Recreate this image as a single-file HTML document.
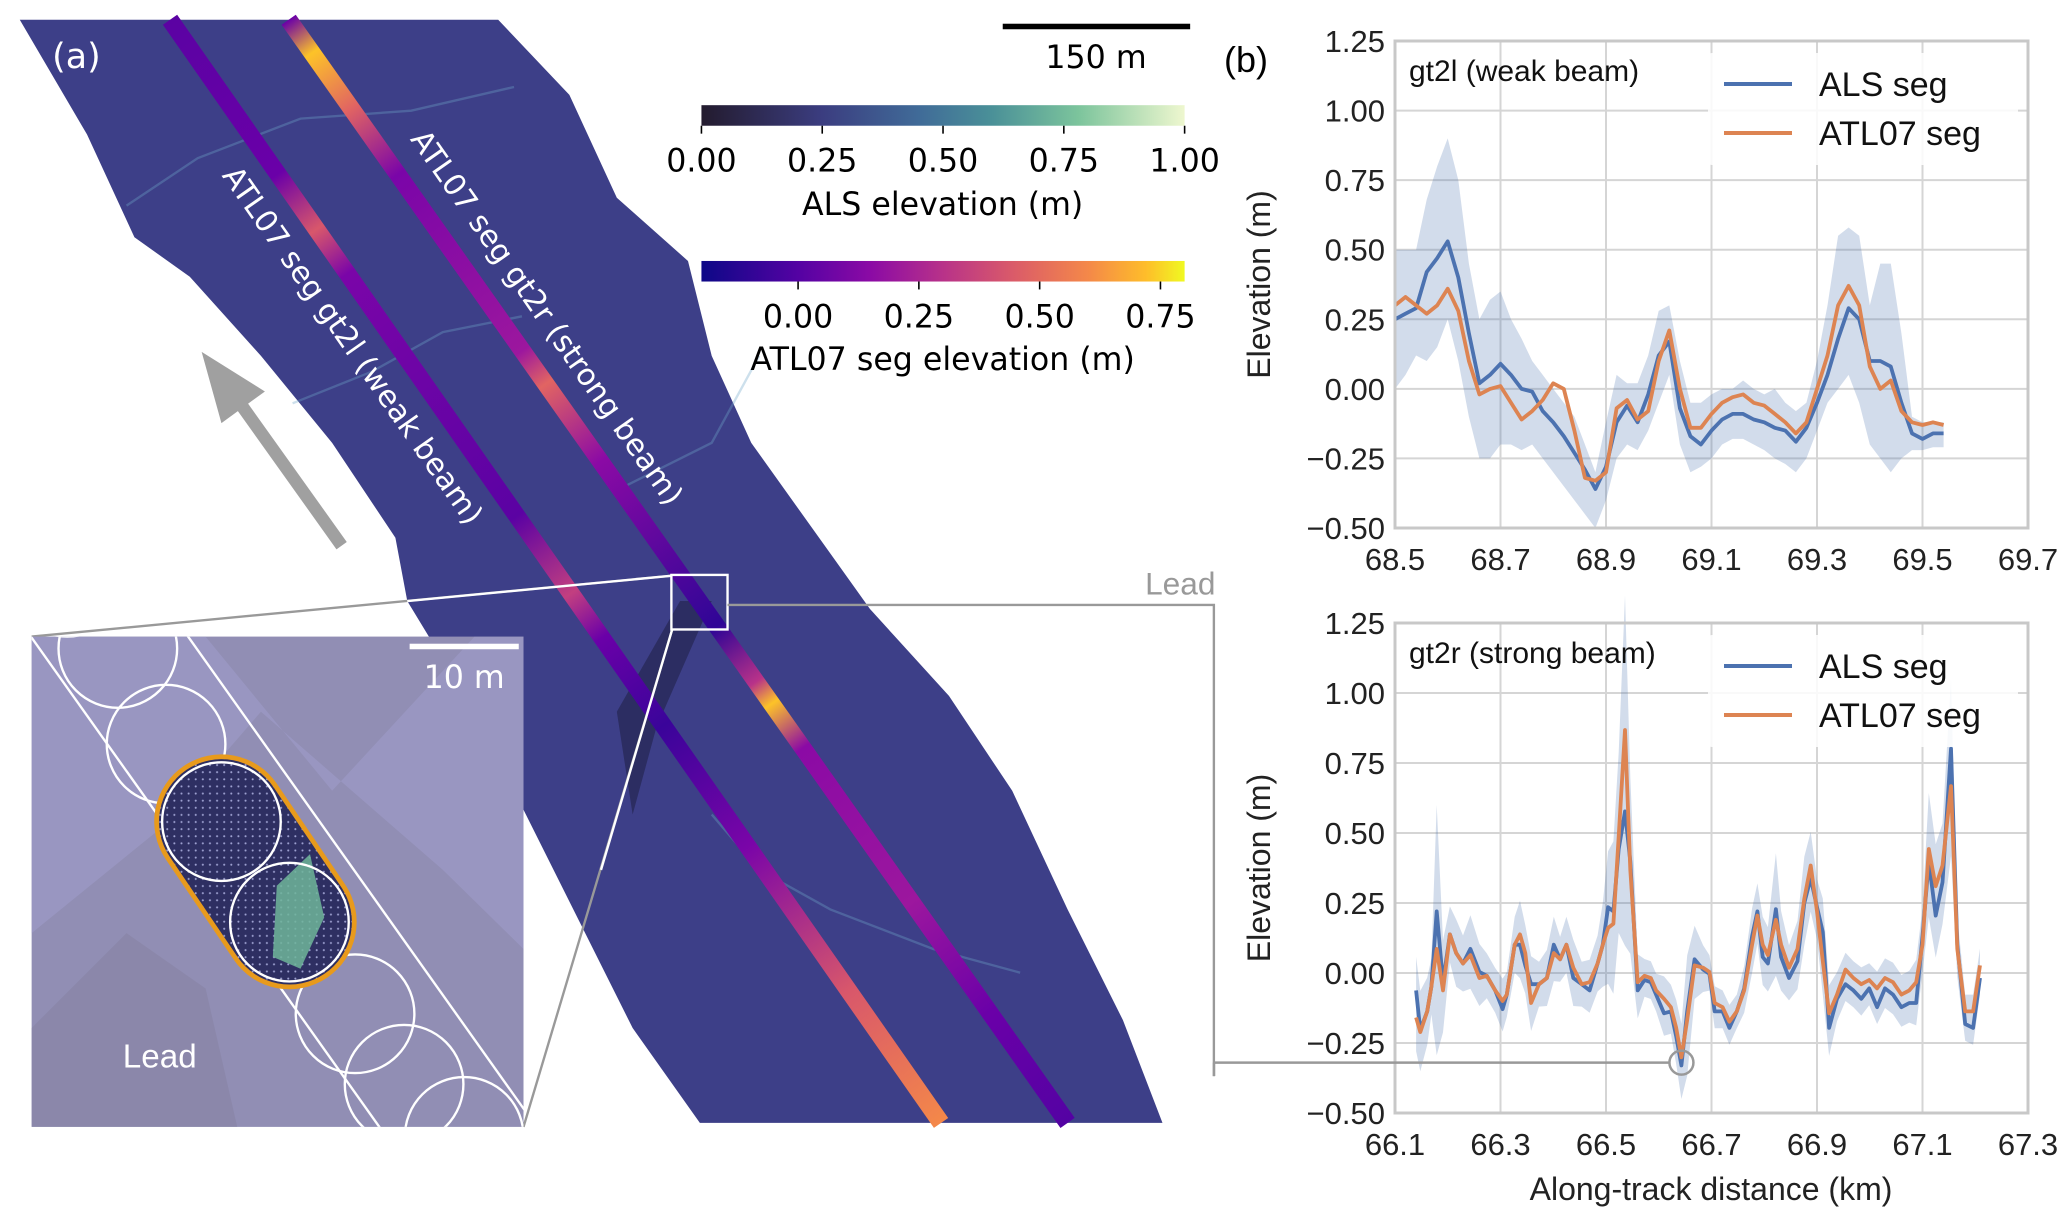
<!DOCTYPE html>
<html><head><meta charset="utf-8"><style>
html,body{margin:0;padding:0;background:#fff;overflow:hidden;width:2067px;height:1226px;}
svg{display:block;}
</style></head><body>
<svg id="fig" xmlns="http://www.w3.org/2000/svg" width="2067" height="1226" viewBox="0 0 2067 1226">
<defs>
<linearGradient id="alsGrad" x1="0" x2="1" y1="0" y2="0">
<stop offset="0" stop-color="#231b2e"/><stop offset="0.25" stop-color="#3b3d80"/><stop offset="0.45" stop-color="#406b98"/><stop offset="0.6" stop-color="#4a9098"/><stop offset="0.78" stop-color="#7cc49c"/><stop offset="1" stop-color="#eef7cf"/>
</linearGradient>
<linearGradient id="plasmaGrad" x1="0" x2="1" y1="0" y2="0">
<stop offset="0" stop-color="#0d0887"/><stop offset="0.2" stop-color="#5402a3"/><stop offset="0.35" stop-color="#8b0aa5"/><stop offset="0.5" stop-color="#b83289"/><stop offset="0.65" stop-color="#db5c68"/><stop offset="0.8" stop-color="#f48849"/><stop offset="0.92" stop-color="#febd2a"/><stop offset="1" stop-color="#f0f921"/>
</linearGradient>
<linearGradient id="beamL" gradientUnits="userSpaceOnUse" x1="215" y1="25" x2="1190" y2="1420">
<stop offset="0" stop-color="#5b02a3"/><stop offset="0.14" stop-color="#6a00a8"/><stop offset="0.19" stop-color="#d8576b"/><stop offset="0.23" stop-color="#7a05a8"/><stop offset="0.45" stop-color="#5b02a3"/><stop offset="0.52" stop-color="#c23f80"/><stop offset="0.56" stop-color="#6a00a8"/><stop offset="0.64" stop-color="#3a049a"/><stop offset="0.75" stop-color="#7a05a8"/><stop offset="0.88" stop-color="#d8576b"/><stop offset="1" stop-color="#f48849"/>
</linearGradient>
<linearGradient id="beamR" gradientUnits="userSpaceOnUse" x1="365" y1="25" x2="1350" y2="1420">
<stop offset="0" stop-color="#6a00a8"/><stop offset="0.03" stop-color="#fdc328"/><stop offset="0.08" stop-color="#e16462"/><stop offset="0.14" stop-color="#7a05a8"/><stop offset="0.3" stop-color="#9c179e"/><stop offset="0.33" stop-color="#e16462"/><stop offset="0.4" stop-color="#8b0aa5"/><stop offset="0.55" stop-color="#2f0596"/><stop offset="0.6" stop-color="#b83289"/><stop offset="0.62" stop-color="#fdc328"/><stop offset="0.66" stop-color="#8b0aa5"/><stop offset="0.8" stop-color="#9c179e"/><stop offset="0.9" stop-color="#6a00a8"/><stop offset="1" stop-color="#5402a3"/>
</linearGradient>
<clipPath id="insetClip"><rect x="40" y="805" width="622" height="620"/></clipPath>
<pattern id="dots" width="9" height="9" patternUnits="userSpaceOnUse"><rect width="9" height="9" fill="#2e2f62"/><circle cx="4.5" cy="4.5" r="1.3" fill="#9da0d0"/></pattern>
</defs>

<g transform="scale(0.7908)" font-family="'DejaVu Sans', sans-serif">
  <polygon fill="#3d3f88" points="25,25 630,25 720,120 780,250 870,330 900,450 950,560 1050,700 1100,770 1200,880 1280,1000 1350,1150 1420,1290 1470,1420 885,1420 800,1300 700,1100 600,900 515,760 500,680 420,560 330,450 240,350 170,300 110,170"/>
  <g stroke="#6fa6c8" stroke-width="3" fill="none" opacity="0.35">
    <path d="M160,260 L250,200 L380,150 L520,140 L650,110"/>
    <path d="M370,510 L470,470 L560,420 L660,400"/>
    <path d="M780,620 L900,560 L960,450"/>
    <path d="M900,1030 L960,1100 L1050,1150 L1180,1200 L1290,1230"/>
  </g>
  <polygon points="780,900 860,760 900,760 830,920 800,1030" fill="#2c2d62"/>
  <line x1="215" y1="25" x2="1190" y2="1420" stroke="url(#beamL)" stroke-width="22"/>
  <line x1="365" y1="25" x2="1350" y2="1420" stroke="url(#beamR)" stroke-width="22"/>
  <text x="66" y="86" font-size="44" fill="#fff">(a)</text>
  <text transform="translate(280,222) rotate(55)" font-size="38" fill="#fff">ATL07 seg gt2l (weak beam)</text>
  <text transform="translate(518,176) rotate(55)" font-size="38" fill="#fff">ATL07 seg gt2r (strong beam)</text>
  <g>
    <line x1="432" y1="690" x2="300" y2="505" stroke="#a0a0a0" stroke-width="16"/>
    <polygon points="255,445 335,495 280,535" fill="#a0a0a0"/>
  </g>
  <rect x="1268" y="30" width="237" height="7" fill="#000"/>
  <text x="1386" y="86" font-size="40" text-anchor="middle">150 m</text>
  <rect x="887" y="133" width="611" height="26" fill="url(#alsGrad)"/>
  <g id="alsTicks" font-size="40" text-anchor="middle"></g>
  <text x="1192" y="272" font-size="40" text-anchor="middle">ALS elevation (m)</text>
  <rect x="887" y="330" width="611" height="26" fill="url(#plasmaGrad)"/>
  <g id="atlTicks" font-size="40" text-anchor="middle"></g>
  <text x="1192" y="468" font-size="40" text-anchor="middle">ATL07 seg elevation (m)</text>
  <line x1="850" y1="728" x2="40" y2="805" stroke="#999" stroke-width="3"/>
  <line x1="850" y1="796" x2="662" y2="1425" stroke="#999" stroke-width="3"/>
  <line x1="850" y1="728" x2="515" y2="760" stroke="#fff" stroke-width="3"/>
  <line x1="850" y1="796" x2="760" y2="1100" stroke="#fff" stroke-width="3"/>
  <rect x="849" y="727" width="71" height="69" fill="none" stroke="#fff" stroke-width="3"/>
  <polyline points="920,765 1535,765 1535,1361" fill="none" stroke="#999" stroke-width="3"/>
  <text x="1537" y="752" font-size="40" fill="#999" text-anchor="end" font-family="'Liberation Sans', sans-serif">Lead</text>
  <g>
    <rect x="40" y="805" width="622" height="620" fill="#918eb4"/>
    <g clip-path="url(#insetClip)">
      <polygon points="40,805 260,805 420,1000 600,805 662,805 662,1200 560,1100 330,900 200,1050 40,1180" fill="#9c9ac6" opacity="0.7"/>
      <polygon points="40,1300 160,1180 260,1250 300,1425 40,1425" fill="#8a86a8" opacity="0.8"/>
      <path d="M-25,575 L761,1681" stroke="#fff" stroke-width="3" transform="translate(-66,47)"/>
      <path d="M-25,575 L761,1681" stroke="#fff" stroke-width="3" transform="translate(66,-47)"/>
      <g fill="none" stroke="#fff" stroke-width="3">
        <circle cx="85" cy="730" r="75"/><circle cx="149" cy="820" r="75"/><circle cx="210" cy="941" r="75"/>
        <circle cx="449" cy="1282" r="75"/><circle cx="511" cy="1371" r="75"/><circle cx="587" cy="1437" r="75"/>
      </g>
      <g>
        <path d="M280,1039 L366,1166" stroke="#e89a1c" stroke-width="170" stroke-linecap="round"/>
        <path d="M280,1039 L366,1166" stroke="url(#dots)" stroke-width="158" stroke-linecap="round"/>
        <path d="M350,1120 L392,1080 L410,1160 L380,1225 L345,1210 Z" fill="#6fb59a" opacity="0.85"/>
        <circle cx="280" cy="1039" r="75" fill="none" stroke="#fff" stroke-width="3"/>
        <circle cx="366" cy="1166" r="75" fill="none" stroke="#fff" stroke-width="3"/>
      </g>
    </g>
    <rect x="518" y="814" width="138" height="7" fill="#fff"/>
    <text x="587" y="870" font-size="40" fill="#fff" text-anchor="middle">10 m</text>
    <text x="202" y="1350" font-size="42" fill="#fff" text-anchor="middle" font-family="'Liberation Sans', sans-serif">Lead</text>
  </g>
</g>

<text x="1224" y="72" font-size="36" font-family="'Liberation Sans', sans-serif">(b)</text>
<g id="chartTop" font-family="'Liberation Sans', sans-serif"></g>
<g id="chartBot" font-family="'Liberation Sans', sans-serif"></g>
</svg>
<script>
const alsTickVals = [0, 0.25, 0.5, 0.75, 1.0];
const atlTickVals = [0, 0.25, 0.5, 0.75];
const topX = [68.50,68.52,68.54,68.56,68.58,68.60,68.62,68.64,68.66,68.68,68.70,68.72,68.74,68.76,68.78,68.80,68.82,68.84,68.86,68.88,68.90,68.92,68.94,68.96,68.98,69.00,69.02,69.04,69.06,69.08,69.10,69.12,69.14,69.16,69.18,69.20,69.22,69.24,69.26,69.28,69.30,69.32,69.34,69.36,69.38,69.40,69.42,69.44,69.46,69.48,69.50,69.52,69.54];
const topALS = [0.25,0.27,0.29,0.42,0.47,0.53,0.40,0.20,0.02,0.05,0.09,0.05,0.00,-0.01,-0.08,-0.12,-0.17,-0.23,-0.29,-0.36,-0.28,-0.12,-0.06,-0.12,-0.02,0.12,0.17,-0.07,-0.17,-0.20,-0.15,-0.11,-0.09,-0.09,-0.11,-0.12,-0.14,-0.15,-0.19,-0.14,-0.05,0.05,0.18,0.29,0.25,0.10,0.10,0.08,-0.05,-0.16,-0.18,-0.16,-0.16];
const topATL = [0.30,0.33,0.30,0.27,0.30,0.36,0.28,0.10,-0.02,0.00,0.01,-0.05,-0.11,-0.08,-0.04,0.02,0.00,-0.15,-0.32,-0.33,-0.30,-0.07,-0.04,-0.11,-0.08,0.10,0.21,0.00,-0.14,-0.14,-0.09,-0.05,-0.03,-0.02,-0.05,-0.06,-0.09,-0.12,-0.16,-0.12,0.00,0.12,0.30,0.37,0.30,0.08,0.00,0.03,-0.08,-0.12,-0.13,-0.12,-0.13];
const topUpper = [0.50,0.50,0.50,0.68,0.80,0.90,0.75,0.45,0.25,0.32,0.35,0.25,0.18,0.10,0.05,0.00,-0.05,-0.10,-0.20,-0.30,-0.12,0.05,0.02,0.02,0.12,0.28,0.30,0.10,-0.05,-0.05,-0.02,0.00,0.00,0.03,0.00,-0.02,0.00,-0.05,-0.08,-0.05,0.10,0.30,0.55,0.58,0.55,0.30,0.45,0.45,0.20,-0.10,-0.12,-0.12,-0.12];
const topLower = [0.00,0.05,0.12,0.10,0.15,0.25,0.10,-0.10,-0.25,-0.25,-0.20,-0.20,-0.22,-0.20,-0.25,-0.30,-0.35,-0.40,-0.45,-0.50,-0.40,-0.25,-0.20,-0.22,-0.15,-0.05,0.05,-0.20,-0.30,-0.28,-0.25,-0.20,-0.18,-0.18,-0.20,-0.22,-0.25,-0.27,-0.30,-0.25,-0.15,-0.05,0.00,0.05,-0.05,-0.20,-0.25,-0.30,-0.25,-0.22,-0.22,-0.21,-0.21];
const topXTicks = [68.5,68.7,68.9,69.1,69.3,69.5,69.7];
const botX = [66.140,66.148,66.161,66.169,66.179,66.191,66.204,66.216,66.229,66.243,66.260,66.274,66.290,66.304,66.312,66.327,66.337,66.347,66.358,66.373,66.388,66.401,66.413,66.425,66.438,66.454,66.469,66.484,66.494,66.504,66.514,66.524,66.536,66.546,66.560,66.573,66.585,66.595,66.610,66.623,66.633,66.643,66.654,66.668,66.684,66.696,66.706,66.721,66.734,66.748,66.762,66.777,66.787,66.797,66.807,66.822,66.832,66.847,66.863,66.876,66.888,66.900,66.911,66.923,66.938,66.954,66.969,66.984,66.999,67.014,67.029,67.044,67.060,67.075,67.088,67.100,67.112,67.125,67.138,67.154,67.166,67.181,67.196,67.209];
const botALS = [-0.062,-0.204,-0.137,-0.048,0.220,-0.033,0.138,0.071,0.034,0.086,0.004,-0.010,-0.062,-0.129,-0.077,0.101,0.101,0.027,-0.040,-0.040,-0.018,0.101,0.049,0.101,-0.018,-0.040,-0.062,0.034,0.101,0.235,0.220,0.443,0.577,0.399,-0.062,-0.025,-0.033,-0.077,-0.144,-0.137,-0.226,-0.330,-0.137,0.049,0.012,-0.003,-0.137,-0.137,-0.196,-0.137,-0.055,0.131,0.220,0.057,0.034,0.228,0.057,-0.018,0.042,0.250,0.339,0.235,0.146,-0.196,-0.092,-0.040,-0.062,-0.092,-0.055,-0.122,-0.055,-0.077,-0.122,-0.107,-0.107,0.131,0.399,0.205,0.324,0.801,0.101,-0.182,-0.196,-0.018];
const botATL = [-0.159,-0.211,-0.137,-0.048,0.086,-0.062,0.138,0.071,0.034,0.064,-0.018,-0.010,-0.062,-0.100,-0.077,0.101,0.138,0.071,-0.107,-0.040,-0.018,0.071,0.049,0.101,0.019,-0.040,-0.033,0.034,0.101,0.161,0.176,0.488,0.868,0.369,-0.033,-0.010,-0.018,-0.062,-0.092,-0.122,-0.196,-0.301,-0.167,0.027,0.019,0.004,-0.107,-0.122,-0.174,-0.137,-0.062,0.101,0.205,0.101,0.064,0.190,0.101,0.019,0.086,0.265,0.384,0.220,0.042,-0.144,-0.077,0.012,-0.018,-0.040,-0.025,-0.055,-0.018,-0.033,-0.077,-0.062,-0.033,0.101,0.443,0.310,0.384,0.667,0.086,-0.137,-0.137,0.027];
const botSpread = [0.12,0.14,0.12,0.10,0.38,0.15,0.10,0.12,0.10,0.12,0.10,0.08,0.08,0.08,0.08,0.10,0.12,0.10,0.10,0.08,0.10,0.10,0.08,0.10,0.10,0.08,0.08,0.10,0.15,0.20,0.25,0.30,0.48,0.30,0.10,0.06,0.06,0.06,0.08,0.08,0.10,0.12,0.20,0.12,0.08,0.06,0.06,0.06,0.06,0.06,0.08,0.10,0.10,0.10,0.10,0.20,0.12,0.08,0.10,0.15,0.12,0.10,0.12,0.10,0.08,0.06,0.06,0.06,0.06,0.06,0.07,0.07,0.07,0.07,0.08,0.10,0.20,0.15,0.15,0.25,0.10,0.06,0.06,0.06];
const botXTicks = [66.1,66.3,66.5,66.7,66.9,67.1,67.3];
const yTicks = [-0.5,-0.25,0,0.25,0.5,0.75,1.0,1.25];
const leadPoint = [66.643, -0.32];

const NS = 'http://www.w3.org/2000/svg';
function mk(tag, attrs, parent) {
  const e = document.createElementNS(NS, tag);
  for (const k in attrs) e.setAttribute(k, attrs[k]);
  parent.appendChild(e);
  return e;
}

const alsG = document.getElementById('alsTicks');
alsTickVals.forEach(v => {
  const x = 887 + v * 611;
  const t = mk('line', {x1: x, x2: x, y1: 159, y2: 169, stroke: '#000', 'stroke-width': 2}, alsG);
  
  
  const l = mk('text', {x: x, y: 217}, alsG);
  
  
  l.textContent = v.toFixed(2);
});
const atlG = document.getElementById('atlTicks');
atlTickVals.forEach(v => {
  const x = 887 + (v + 0.2) / 1.0 * 611;
  const t = mk('line', {x1: x, x2: x, y1: 356, y2: 366, stroke: '#000', 'stroke-width': 2}, atlG);
  
  
  const l = mk('text', {x: x, y: 414}, atlG);
  
  
  l.textContent = v.toFixed(2);
});

function drawChart(g, cfg) {
  const X0 = 1395, X1 = 2028, Y0 = cfg.top, Y1 = cfg.bottom;
  const xmin = cfg.xTicks[0], xmax = cfg.xTicks[cfg.xTicks.length - 1];
  const sx = v => X0 + (v - xmin) / (xmax - xmin) * (X1 - X0);
  const sy = v => Y1 - (v + 0.5) / 1.75 * (Y1 - Y0);
  const bg = mk('rect', {x: X0, y: Y0, width: X1 - X0, height: Y1 - Y0, fill: '#fff'}, g);
  
  
  cfg.xTicks.forEach(v => {
    const gl = mk('line', {x1: sx(v), x2: sx(v), y1: Y0, y2: Y1, stroke: '#d5d5d5', 'stroke-width': 2}, g);
    
    
    const tl = mk('text', {x: sx(v), y: Y1 + 42, 'font-size': 31, 'text-anchor': 'middle', fill: '#222'}, g);
    
    
    tl.textContent = v.toFixed(1);
  });
  yTicks.forEach(v => {
    const gl = mk('line', {x1: X0, x2: X1, y1: sy(v), y2: sy(v), stroke: '#d5d5d5', 'stroke-width': 2}, g);
    
    
    const tl = mk('text', {x: X0 - 10, y: sy(v) + 11, 'font-size': 31, 'text-anchor': 'end', fill: '#222'}, g);
    
    
    tl.textContent = (v < 0 ? '\u2212' : '') + Math.abs(v).toFixed(2);
  });
  let d = '';
  cfg.x.forEach((v, i) => { d += (i ? 'L' : 'M') + sx(v).toFixed(1) + ',' + sy(cfg.upper[i]).toFixed(1); });
  for (let i = cfg.x.length - 1; i >= 0; i--) d += 'L' + sx(cfg.x[i]).toFixed(1) + ',' + sy(cfg.lower[i]).toFixed(1);
  const band = mk('path', {d: d + 'Z', fill: '#4c72b0', 'fill-opacity': 0.25}, g);
  
  
  const line = (arr, col, nm) => {
    const p = mk('path', {d: cfg.x.map((v, i) => (i ? 'L' : 'M') + sx(v).toFixed(1) + ',' + sy(arr[i]).toFixed(1)).join(''), fill: 'none', stroke: col, 'stroke-width': 3.8, 'stroke-linejoin': 'round'}, g);
    
    
  };
  line(cfg.als, '#4c72b0', cfg.name + '-als-line');
  line(cfg.atl, '#dd8452', cfg.name + '-atl07-line');
  const fr = mk('rect', {x: X0, y: Y0, width: X1 - X0, height: Y1 - Y0, fill: 'none', stroke: '#c8c8c8', 'stroke-width': 3}, g);
  
  
  const tt = mk('text', {x: X0 + 14, y: Y0 + 40, 'font-size': 30, fill: '#111'}, g);
  
  
  tt.textContent = cfg.title;
  const lg = mk('g', {}, g);
  
  
  mk('rect', {x: 1708, y: Y0 + 12, width: 310, height: 112, fill: '#fff', 'fill-opacity': 0.85, rx: 4}, lg);
  [['ALS seg', '#4c72b0', 0], ['ATL07 seg', '#dd8452', 1]].forEach(([lab, col, k]) => {
    const yy = Y0 + 43 + k * 49;
    const ent = mk('g', {}, lg);
    
    
    mk('line', {x1: 1724, x2: 1792, y1: yy, y2: yy, stroke: col, 'stroke-width': 4}, ent);
    const t = mk('text', {x: 1819, y: yy + 12, 'font-size': 34, fill: '#111'}, ent);
    t.textContent = lab;
  });
  const yt = mk('text', {x: 0, y: 0, 'font-size': 32, 'text-anchor': 'middle', fill: '#222', transform: 'translate(1270,' + ((Y0 + Y1) / 2) + ') rotate(-90)'}, g);
  
  
  yt.textContent = 'Elevation (m)';
  return {sx, sy};
}

drawChart(document.getElementById('chartTop'), {name: 'gt2l', top: 41, bottom: 528, x: topX, als: topALS, atl: topATL, upper: topUpper, lower: topLower, xTicks: topXTicks, title: 'gt2l (weak beam)'});
const botUpper = botALS.map((v, i) => Math.max(v, botATL[i]) + botSpread[i]);
const botLower = botALS.map((v, i) => Math.min(v, botATL[i]) - botSpread[i]);
const gb = document.getElementById('chartBot');
const s = drawChart(gb, {name: 'gt2r', top: 623, bottom: 1113, x: botX, als: botALS, atl: botATL, upper: botUpper, lower: botLower, xTicks: botXTicks, title: 'gt2r (strong beam)'});
const cx = s.sx(leadPoint[0]), cy = s.sy(leadPoint[1]);
const conn = mk('line', {x1: 1214, x2: cx - 12, y1: cy, y2: cy, stroke: '#999', 'stroke-width': 2.5}, gb);


const cv = mk('line', {x1: 1214, x2: 1214, y1: 1076, y2: cy, stroke: '#999', 'stroke-width': 2.5}, gb);


const circ = mk('circle', {cx: cx, cy: cy, r: 12, fill: 'none', stroke: '#999', 'stroke-width': 2.5}, gb);


const xt = mk('text', {x: 1711, y: 1200, 'font-size': 32, 'text-anchor': 'middle', fill: '#222'}, gb);


xt.textContent = 'Along-track distance (km)';
</script>
</body></html>
